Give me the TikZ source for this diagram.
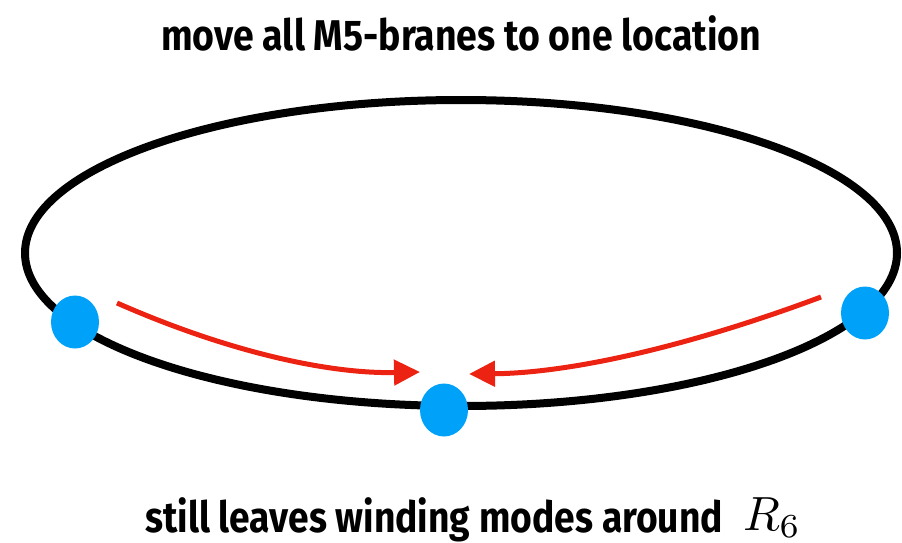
\documentclass[tikz,border=0pt]{standalone}
\usepackage{fontspec}
\setmainfont{Fira Sans}
\usetikzlibrary{arrows.meta,shapes.geometric}
\definecolor{ringblack}{HTML}{000000}
\definecolor{braneblue}{HTML}{00A2F9}
\definecolor{arrowred}{HTML}{EC2312}
\tikzset{
  ring/.style={draw=ringblack, line width=8pt},
  brane/.style={ellipse, fill=braneblue, minimum width=48pt, minimum height=53pt, inner sep=0pt},
  move/.style={draw=arrowred, line width=5pt, -{Triangle[length=26pt,width=25pt]}},
  caption/.style={font=\bfseries\fontsize{43pt}{45pt}\selectfont, inner sep=0pt, anchor=base west}
}
\begin{document}
\begin{tikzpicture}[x=1pt,y=-1pt]
\useasboundingbox (0,0) rectangle (902,543);
\draw[ring] (461,253) ellipse [x radius=436, y radius=153];
\node[brane] (left) at (75,322) {};
\node[brane] (right) at (865,313) {};
\node[brane] (mid) at (444,410) {};
\coordinate (lstart) at (117,303);
\coordinate (ltip) at (420,372);
\coordinate (rstart) at (821,297);
\coordinate (rtip) at (469,374);
\draw[move] (lstart) .. controls (226,351) and (327,374) .. (ltip);
\draw[move] (rstart) .. controls (687,347) and (570,373) .. (rtip);
\node[caption] (top) at (161,51) {\scalebox{0.87}[1]{move all M5-branes to one location}};
\node[caption] (bottom) at (145,532) {\scalebox{0.865}[1]{still leaves winding modes around}};
\node[inner sep=0pt, anchor=base west] (radius) at (743,530) {\scalebox{4.8}{$R_6$}};
\end{tikzpicture}
\end{document}
